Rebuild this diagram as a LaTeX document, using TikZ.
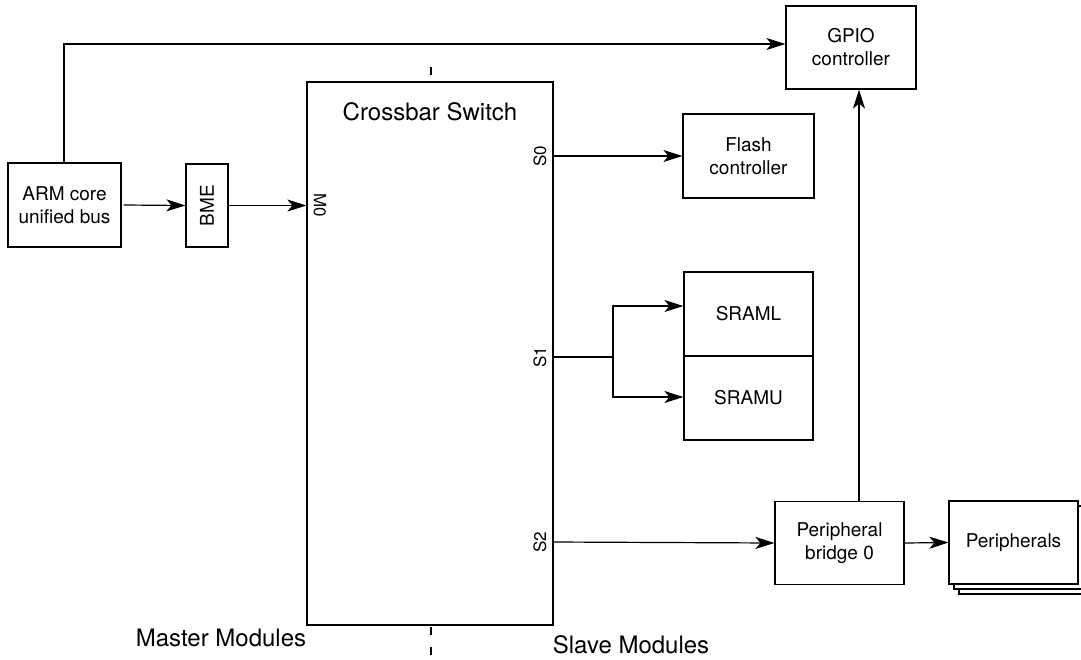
\documentclass[tikz,border=0pt]{standalone}
\usepackage{fontspec}
\setsansfont{TeX Gyre Heros}
\usetikzlibrary{arrows.meta,positioning,calc}
\definecolor{ink}{HTML}{000000}
\tikzset{
  every node/.style={font=\sffamily},
  box/.style={draw=ink, line width=1.2pt, fill=white, align=center, inner sep=0pt, font=\sffamily\fontsize{19}{23}\selectfont},
  port/.style={font=\sffamily\fontsize{17}{20}\selectfont, inner sep=0pt},
  title/.style={font=\sffamily\fontsize{24}{28}\selectfont, text=ink, inner sep=0pt},
  arrow/.style={-{Stealth[length=19pt,width=12pt,inset=5pt]}, line width=1.2pt, draw=ink},
  wire/.style={line width=1.2pt, draw=ink},
  divider/.style={line width=1.2pt, draw=ink, dash pattern=on 8pt off 12pt},
}
\begin{document}
\begin{tikzpicture}[x=1pt,y=-1pt]
\useasboundingbox (0,0) rectangle (1081,659);
\draw[divider] (431,67) -- (431,655);
\node[box, minimum width=246pt, minimum height=543pt] (xbar) at (430,353.5) {};
\node[title] (xbartitle) at (430,112) {Crossbar Switch};
\node[box, minimum width=113pt, minimum height=84pt] (arm) at (64.5,205) {ARM core\\unified bus};
\node[box, minimum width=42pt, minimum height=83pt] (bme) at (207,205.5) {\rotatebox{90}{BME}};
\node[box, minimum width=130pt, minimum height=83pt] (gpio) at (851,47.5) {GPIO\\controller};
\node[box, minimum width=131pt, minimum height=84pt] (flash) at (748.5,156) {Flash\\controller};
\node[box, minimum width=129pt, minimum height=84pt] (sraml) at (748.5,314) {SRAML};
\node[box, minimum width=129pt, minimum height=84pt] (sramu) at (748.5,398) {SRAMU};
\node[box, minimum width=129pt, minimum height=83pt] (bridge) at (839.5,543) {Peripheral\\bridge 0};
\node[box, minimum width=129pt, minimum height=83pt] (periph3) at (1023.5,552.5) {};
\node[box, minimum width=129pt, minimum height=83pt] (periph2) at (1018.5,547.5) {};
\node[box, minimum width=129pt, minimum height=83pt] (periph) at (1013.5,542.5) {Peripherals};
% ports
\node[port, rotate=-90] (m0) at (320,205) {M0};
\node[port, rotate=90] (s0lbl) at (540,156) {S0};
\node[port, rotate=90] (s1lbl) at (540,357) {S1};
\node[port, rotate=90] (s2lbl) at (540,542) {S2};
\coordinate (s0) at (553,156);
\coordinate (s1) at (553,357);
\coordinate (s1split) at (613,357);
\coordinate (s2) at (553,542);
\coordinate (top) at (64,44);
% module groups
\node[title] (master) at (221,638) {Master Modules};
\node[title] (slave) at (631,645) {Slave Modules};
% connections
\draw[arrow] ([xshift=2pt]arm.east) -- (bme.west);
\draw[arrow] (bme.east) -- (bme.east -| xbar.west);
\draw[arrow] (arm.north -| top) -- (top) -- (top -| gpio.west);
\draw[arrow] (s0) -- (flash.west);
\draw[wire] (s1) -- (s1split);
\draw[arrow] (s1split) |- ([yshift=8pt]sraml.west);
\draw[arrow] (s1split) |- ([yshift=1pt]sramu.west);
\draw[arrow] (s2) -- (bridge.west);
\draw[arrow] (bridge.east) -- (periph.west);
\draw[arrow] ([xshift=19.5pt]bridge.north) -- ([xshift=19.5pt]bridge.north |- gpio.south);
\end{tikzpicture}
\end{document}
